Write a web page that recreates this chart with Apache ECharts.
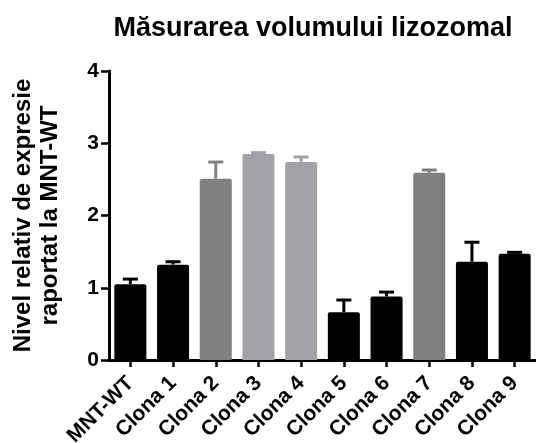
<!DOCTYPE html>
<html>
<head>
<meta charset="utf-8">
<script src="https://cdn.jsdelivr.net/npm/echarts@6/dist/echarts.min.js"></script>
<style>
  html, body { margin: 0; padding: 0; background: #ffffff; }
  #chart { width: 536px; height: 443px; }
</style>
</head>
<body>
<div id="chart"></div>
<script>
// ---- data ----
const categories = ['MNT-WT', 'Clona 1', 'Clona 2', 'Clona 3', 'Clona 4', 'Clona 5', 'Clona 6', 'Clona 7', 'Clona 8', 'Clona 9'];
const means = [1.05, 1.32, 2.51, 2.85, 2.74, 0.66, 0.88, 2.59, 1.36, 1.47];
const errors = [0.07, 0.04, 0.23, 0.02, 0.07, 0.17, 0.06, 0.04, 0.27, 0.02];
const yTicks = [0, 1, 2, 3, 4];
const titleText = 'Măsurarea volumului lizozomal';
const yAxisName = 'Nivel relativ de expresie\nraportat la MNT-WT';

// ---- style ----
const BLACK = '#000000';
const DARK = '#808080';
const LIGHT = '#a2a2a7';
const barColors = [BLACK, BLACK, DARK, LIGHT, LIGHT, BLACK, BLACK, DARK, BLACK, BLACK];
const FONT = 'Liberation Sans, Arial, sans-serif';

const chart = echarts.init(document.getElementById('chart'), null, { renderer: 'canvas' });

const errData = means.map((m, i) => [i, m, m + errors[i]]);

chart.setOption({
  animation: false,
  backgroundColor: '#ffffff',
  title: {
    text: titleText,
    left: 308,
    textAlign: 'center',
    top: 10,
    textStyle: { fontFamily: FONT, fontWeight: 'bold', fontSize: 27, color: '#000' }
  },
  grid: { left: 109, right: 0, top: 71, bottom: 83, containLabel: false, outerBoundsMode: 'none' },
  xAxis: {
    type: 'category',
    data: categories,
    boundaryGap: true,
    axisLine: { lineStyle: { color: '#000', width: 3 } },
    axisTick: { show: true, alignWithLabel: true, length: 7, lineStyle: { color: '#000', width: 2.5 } },
    axisLabel: {
      rotate: 45, interval: 0, margin: 20,
      fontFamily: FONT, fontWeight: 'bold', fontSize: 21, color: '#000'
    }
  },
  yAxis: {
    type: 'value',
    min: yTicks[0], max: yTicks[yTicks.length - 1], interval: 1,
    name: yAxisName,
    nameLocation: 'middle',
    nameRotate: 90,
    nameGap: 45,
    nameTextStyle: { fontFamily: FONT, fontWeight: 'bold', fontSize: 24, color: '#000', lineHeight: 27, align: 'center' },
    splitLine: { show: false },
    axisLine: { show: true, lineStyle: { color: '#000', width: 3 } },
    axisTick: { show: true, length: 8, lineStyle: { color: '#000', width: 2.5 } },
    axisLabel: { margin: 10, fontFamily: FONT, fontWeight: 'bold', fontSize: 21, color: '#000' }
  },
  series: [
    {
      type: 'bar',
      data: means.map((v, i) => ({ value: v, itemStyle: { color: barColors[i] } })),
      barWidth: '75%',
      itemStyle: { borderRadius: [2, 2, 0, 0] },
      z: 2
    },
    {
      type: 'custom',
      data: errData,
      z: 3,
      renderItem: function (params, api) {
        const i = api.value(0);
        const p0 = api.coord([i, api.value(1)]);
        const p1 = api.coord([i, api.value(2)]);
        const col = barColors[i];
        const half = 7.5;
        return {
          type: 'group',
          children: [
            { type: 'line', shape: { x1: p0[0], y1: p0[1], x2: p1[0], y2: p1[1] }, style: { stroke: col, lineWidth: 3 } },
            { type: 'line', shape: { x1: p1[0] - half, y1: p1[1], x2: p1[0] + half, y2: p1[1] }, style: { stroke: col, lineWidth: 3 } }
          ]
        };
      }
    }
  ]
});
</script>
</body>
</html>
